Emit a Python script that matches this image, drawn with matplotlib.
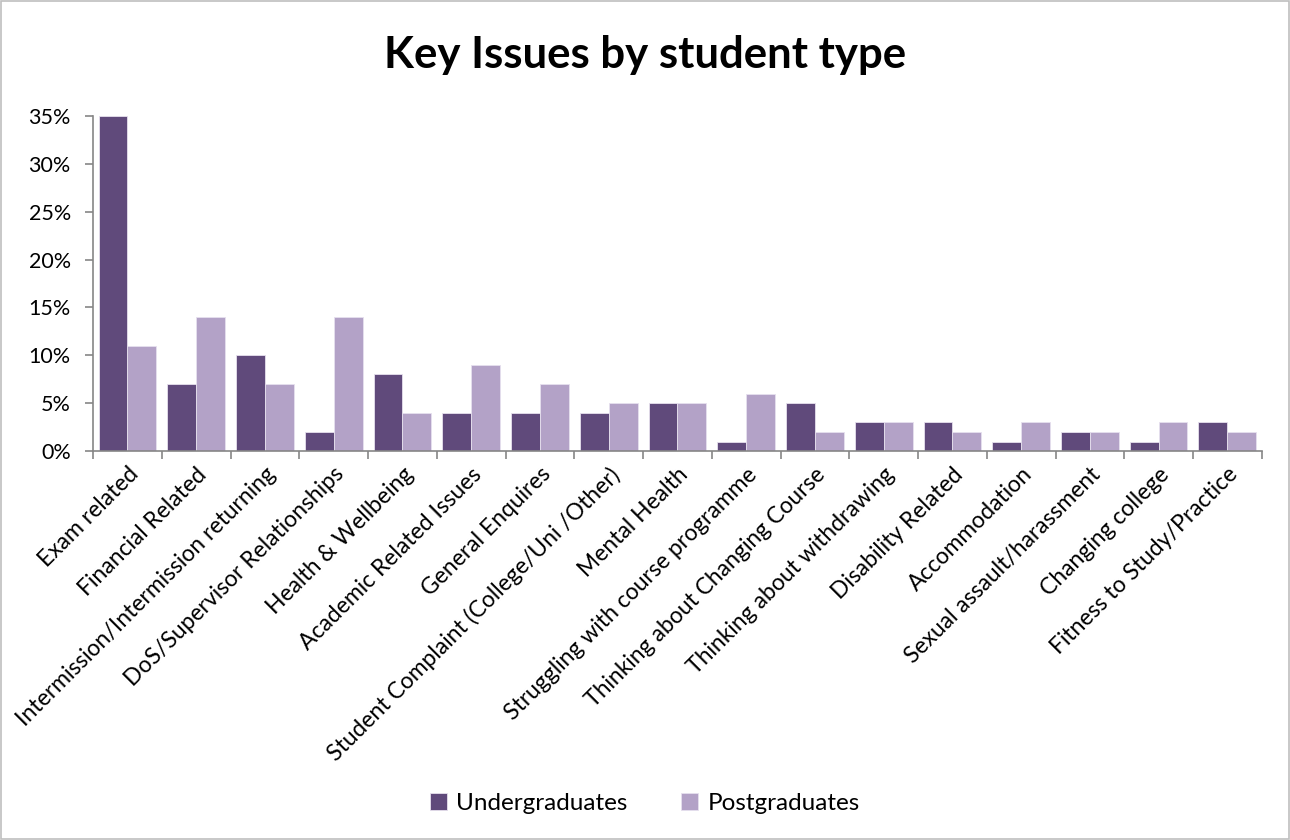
import numpy as np
import matplotlib.pyplot as plt
from matplotlib.patches import Rectangle

plt.rcParams['font.family'] = ['Lato', 'DejaVu Sans']

categories = ['Exam related', 'Financial Related', 'Intermission/Intermission returning',
              'DoS/Supervisor Relationships', 'Health & Wellbeing', 'Academic Related Issues',
              'General Enquires', 'Student Complaint (College/Uni /Other)', 'Mental Health',
              'Struggling with course programme', 'Thinking about Changing Course',
              'Thinking about withdrawing', 'Disability Related', 'Accommodation',
              'Sexual assault/harassment', 'Changing college', 'Fitness to Study/Practice']
undergrad = [35, 7, 10, 2, 8, 4, 4, 4, 5, 1, 5, 3, 3, 1, 2, 1, 3]
postgrad = [11, 14, 7, 14, 4, 9, 7, 5, 5, 6, 2, 3, 2, 3, 2, 3, 2]

ug_color = '#604a7b'
pg_color = '#b3a2c7'
axis_color = '#868686'

fig = plt.figure(figsize=(12.9, 8.4), dpi=100)
ax = fig.add_axes([0.0721, 0.463, 0.906, 0.399])

x = np.arange(len(categories))
w = 0.42
ax.bar(x - w / 2, np.array(undergrad) / 100, w, color=ug_color, edgecolor='#e6e0ee', linewidth=0.6,
       label='Undergraduates')
ax.bar(x + w / 2, np.array(postgrad) / 100, w, color=pg_color, edgecolor='#e6e0ee', linewidth=0.6,
       label='Postgraduates')

ax.set_xlim(-0.5, len(categories) - 0.5)
ax.set_ylim(0, 0.35)
ax.set_yticks(np.arange(0, 0.351, 0.05))
ax.set_yticklabels([f'{int(round(v * 100))}%' for v in np.arange(0, 0.351, 0.05)], fontsize=15.5)

# category labels on the centres, tick marks between groups
ax.set_xticks(x)
ax.set_xticklabels(categories, rotation=45, ha='right', rotation_mode='anchor', fontsize=16.5)
ax.tick_params(axis='x', length=0, pad=9)
ax.set_xticks(np.arange(-0.5, len(categories), 1), minor=True)
ax.tick_params(axis='x', which='minor', length=6, width=1.2, color=axis_color, direction='out')
ax.tick_params(axis='y', length=6, width=1.2, color=axis_color, direction='out', pad=10)

for s in ['top', 'right']:
    ax.spines[s].set_visible(False)
for s in ['left', 'bottom']:
    ax.spines[s].set_color(axis_color)
    ax.spines[s].set_linewidth(1.2)

fig.text(0.5, 0.934, 'Key Issues by student type', ha='center', va='center',
         fontsize=31.5, fontweight='bold')

fig.legend(loc='center', bbox_to_anchor=(0.5, 0.043), ncol=2, frameon=False, fontsize=17.5,
           handlelength=0.7, handleheight=0.7, handletextpad=0.4, columnspacing=2.2)

# light grey outline round the whole chart area
fig.patches.append(Rectangle((0.001, 0.001), 0.998, 0.998, transform=fig.transFigure,
                             fill=False, edgecolor='#bfbfbf', linewidth=1.2))

fig.savefig('out.png', dpi=100)
